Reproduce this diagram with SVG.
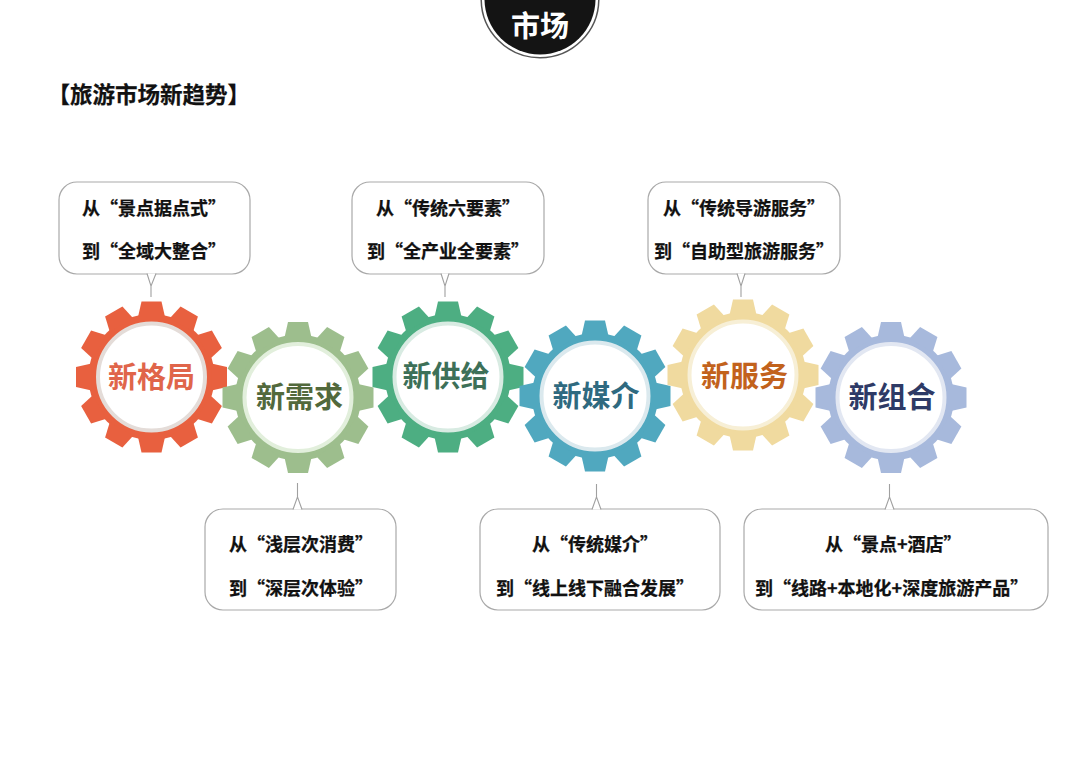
<svg xmlns="http://www.w3.org/2000/svg" xmlns:xlink="http://www.w3.org/1999/xlink" width="1080" height="763" viewBox="0 0 1080 763">
<style>
text{font-family:"Noto Sans CJK SC","Liberation Sans",sans-serif;font-weight:700}
.b{fill:#fff;stroke:#a9a9a9;stroke-width:1.2}
.t{fill:#fff;stroke:#a0a0a0;stroke-width:1.1}
.c{font-size:18px;fill:#111;stroke:#111;stroke-width:.25}
.g{font-size:29px;text-anchor:middle}
.r{stroke-width:4}
</style>
<defs>
<polygon id="tooth" points="-13.5,-60 -10,-75.500 10,-75.500 13.5,-60"/>
<g id="gear">
<circle r="63"/>
<use xlink:href="#tooth"/>
<use xlink:href="#tooth" transform="rotate(30)"/>
<use xlink:href="#tooth" transform="rotate(60)"/>
<use xlink:href="#tooth" transform="rotate(90)"/>
<use xlink:href="#tooth" transform="rotate(120)"/>
<use xlink:href="#tooth" transform="rotate(150)"/>
<use xlink:href="#tooth" transform="rotate(180)"/>
<use xlink:href="#tooth" transform="rotate(210)"/>
<use xlink:href="#tooth" transform="rotate(240)"/>
<use xlink:href="#tooth" transform="rotate(270)"/>
<use xlink:href="#tooth" transform="rotate(300)"/>
<use xlink:href="#tooth" transform="rotate(330)"/>
</g>
</defs>
<rect width="1080" height="763" fill="#fff"/>
<g id="header">
<circle cx="540" cy="-1" r="58.8" fill="#fff" stroke="#555" stroke-width="1.5"/>
<circle cx="540" cy="-1" r="55.500" fill="#141414"/>
<text x="540" y="37" font-size="29" fill="#fff" text-anchor="middle">市场</text>
</g>
<text id="title" x="47.500" y="103" font-size="22.500" fill="#111" stroke="#111" stroke-width=".25">【旅游市场新趋势】</text>
<g id="bubble-1"><rect class="b" x="59" y="182" width="191" height="92" rx="18"/><text class="c" x="82" y="215">从“景点据点式”</text><text class="c" x="82" y="258">到“全域大整合”</text></g>
<g id="bubble-2"><rect class="b" x="205" y="509" width="191" height="101" rx="18"/><text class="c" x="229" y="551">从“浅层次消费”</text><text class="c" x="229" y="595">到“深层次体验”</text></g>
<g id="bubble-3"><rect class="b" x="352" y="182" width="192" height="92" rx="18"/><text class="c" x="376" y="215">从“传统六要素”</text><text class="c" x="367" y="258">到“全产业全要素”</text></g>
<g id="bubble-4"><rect class="b" x="480" y="509" width="240" height="101" rx="18"/><text class="c" x="532" y="551">从“传统媒介”</text><text class="c" x="496" y="595">到“线上线下融合发展”</text></g>
<g id="bubble-5"><rect class="b" x="648" y="182" width="192" height="92" rx="18"/><text class="c" x="663" y="215">从“传统导游服务”</text><text class="c" x="654" y="258">到“自助型旅游服务”</text></g>
<g id="bubble-6"><rect class="b" x="744" y="509" width="304" height="101" rx="18"/><text class="c" x="825" y="551">从“景点+酒店”</text><text class="c" x="755" y="595">到“线路+本地化+深度旅游产品”</text></g>
<g id="connectors">
<path class="t" d="M147,273.500L151,286V297V286L156,273.500"/>
<path class="t" d="M293,509.500L297.500,497V483V497L302,509.500"/>
<path class="t" d="M441,273.500L445,286V297V286L449,273.500"/>
<path class="t" d="M592,509.500L596.500,497V484V497L601,509.500"/>
<path class="t" d="M737,273.500L741,286V297V286L745,273.500"/>
<path class="t" d="M885,509.500L889.500,497V484V497L894,509.500"/>
</g>
<g id="gear-1" transform="translate(151.500,377)"><use xlink:href="#gear" fill="#e8603f"/><circle class="r" r="53.500" fill="#fff" stroke="#e4dcd8"/><text class="g" y="11" fill="#e0654a">新格局</text></g>
<g id="gear-2" transform="translate(298,397.500)"><use xlink:href="#gear" fill="#9dbe8d"/><circle class="r" r="53.500" fill="#fff" stroke="#e2efdc"/><text class="g" x="1.500" y="10.500" fill="#52693c">新需求</text></g>
<g id="gear-3" transform="translate(448,377)"><use xlink:href="#gear" fill="#4dae82"/><circle class="r" r="53.500" fill="#fff" stroke="#d8ebe2"/><text class="g" x="-2" y="9.500" fill="#3d7058">新供给</text></g>
<g id="gear-4" transform="translate(595,396)"><use xlink:href="#gear" fill="#50a8bf"/><circle class="r" r="53.500" fill="#fff" stroke="#dbe9ee"/><text class="g" x="1" y="11" fill="#2f6a80">新媒介</text></g>
<g id="gear-5" transform="translate(743,375)"><use xlink:href="#gear" fill="#f0da9f"/><circle class="r" r="53.500" fill="#fff" stroke="#f7efd6"/><text class="g" x="1.500" y="12" fill="#c2621c">新服务</text></g>
<g id="gear-6" transform="translate(891,397.500)"><use xlink:href="#gear" fill="#a7b9dc"/><circle class="r" r="53.500" fill="#fff" stroke="#e2e7f2"/><text class="g" x="1" y="10.500" fill="#2e3a66">新组合</text></g>
</svg>
